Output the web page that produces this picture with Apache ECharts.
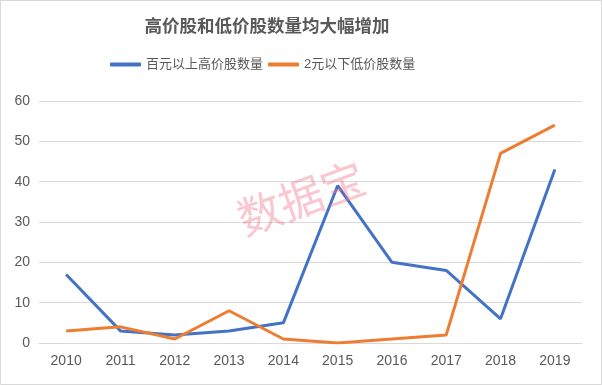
<!DOCTYPE html>
<html><head><meta charset="utf-8">
<script src="https://cdn.jsdelivr.net/npm/echarts@6/dist/echarts.min.js"></script>
<style>html,body{margin:0;padding:0;background:#fff}#c{width:602px;height:385px}</style>
</head><body><div id="c"></div>
<script>
const categories = ['2010','2011','2012','2013','2014','2015','2016','2017','2018','2019'];
const highPrice = [17, 3, 2, 3, 5, 39, 20, 18, 6, 43];
const lowPrice = [3, 4, 1, 8, 1, 0, 1, 2, 47, 54];
const seriesNames = ['百元以上高价股数量', '2元以下低价股数量'];
const titleText = '高价股和低价股数量均大幅增加';
const watermark = '数据宝';

const FONT = '"Liberation Sans", "Noto Sans CJK SC", sans-serif';
const chart = echarts.init(document.getElementById('c'));
chart.setOption({
  backgroundColor: '#fff',
  animation: false,
  title: {
    text: titleText, left: 262, top: 13, textAlign: 'center',
    textStyle: { fontFamily: FONT, fontSize: 17.5, fontWeight: 'bold', color: '#595959' }
  },
  legend: {
    data: seriesNames, left: 110, top: 58, itemGap: 5, padding: 0,
    icon: 'roundRect', itemWidth: 31, itemHeight: 4,
    textStyle: { fontFamily: FONT, fontSize: 13, color: '#595959' }
  },
  grid: { left: 39, right: 20, top: 101, bottom: 42 },
  xAxis: {
    type: 'category', data: categories, boundaryGap: true,
    axisLine: { lineStyle: { color: '#d9d9d9' } }, axisTick: { show: false },
    axisLabel: { fontFamily: FONT, fontSize: 14, color: '#595959', margin: 11 }
  },
  yAxis: {
    type: 'value', min: 0, max: 60, interval: 10,
    axisLine: { show: false }, axisTick: { show: false },
    splitLine: { lineStyle: { color: '#d9d9d9' } },
    axisLabel: { fontFamily: FONT, fontSize: 14, color: '#595959', margin: 9 }
  },
  graphic: [
    { type: 'rect', shape: { x: 0.5, y: 0.5, width: 601, height: 384 }, style: { fill: 'none', stroke: '#d9d9d9', lineWidth: 1 }, z: -1 },
    { type: 'text', x: 301, y: 198, rotation: 20 * Math.PI / 180,
      style: { text: watermark, fontFamily: '"Noto Sans CJK SC", sans-serif', fontSize: 44, fill: 'rgba(242,120,140,0.42)', align: 'center', verticalAlign: 'middle' }, z: 10 }
  ],
  series: [
    { name: seriesNames[0], type: 'line', data: highPrice, symbol: 'none', lineStyle: { width: 3, color: '#4472C4' }, itemStyle: { color: '#4472C4' } },
    { name: seriesNames[1], type: 'line', data: lowPrice, symbol: 'none', lineStyle: { width: 3, color: '#ED7D31' }, itemStyle: { color: '#ED7D31' } }
  ]
});
</script></body></html>
